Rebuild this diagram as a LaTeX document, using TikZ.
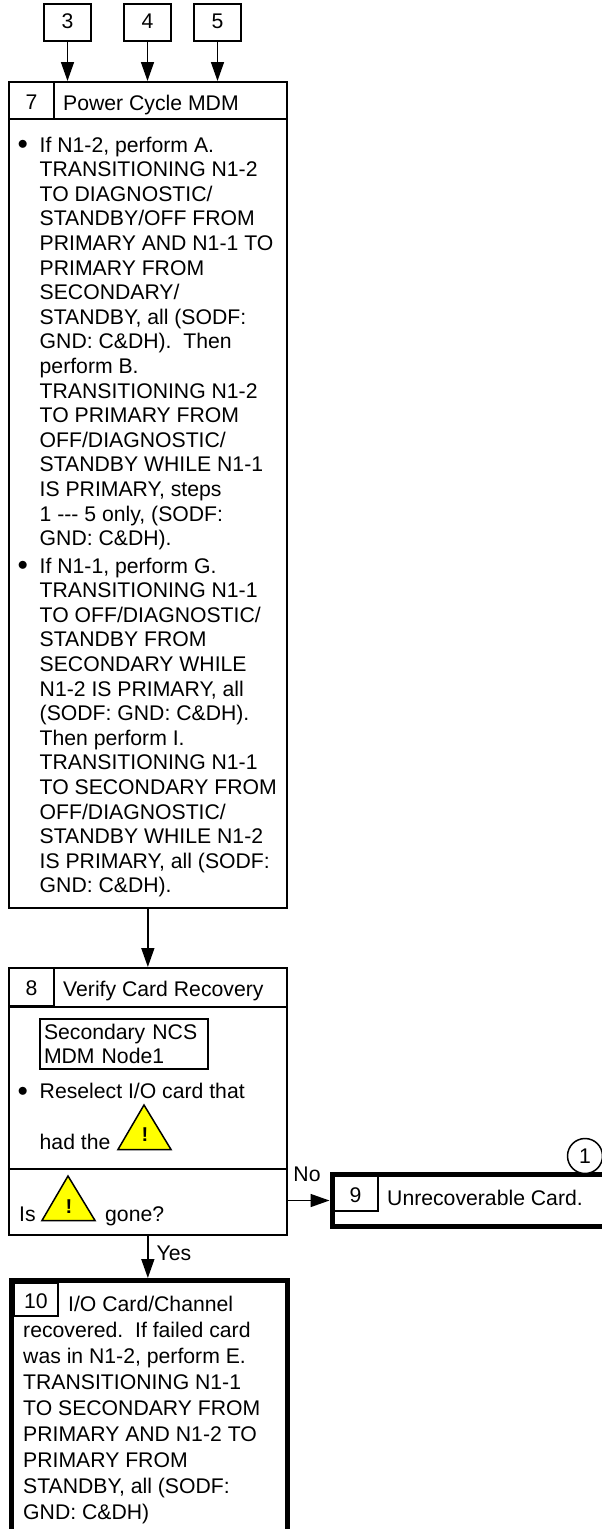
\documentclass[tikz,border=0pt]{standalone}
\usepackage{fontspec}
\setmainfont{Liberation Sans}
\usepackage{xcolor}
\usetikzlibrary{positioning, arrows.meta}

\definecolor{warnyellow}{RGB}{255,255,0}

\tikzset{
    flowbox/.style={draw, line width=2pt, anchor=north west, inner sep=0pt},
    termbox/.style={draw, line width=5pt, anchor=north west, inner sep=0pt},
    connbox/.style={draw, line width=2pt, anchor=north west, inner sep=0pt, text depth=2pt},
    numbox/.style={draw, line width=2pt, anchor=north west, inner sep=0pt, text height=18pt},
    bodytext/.style={anchor=north west, inner sep=0pt, align=left},
    linetext/.style={anchor=base west, inner sep=0pt},
    bulletmark/.style={inner sep=0pt},
    warnsign/.style={draw, line width=1.5pt, fill=warnyellow, line join=miter},
    warnmark/.style={inner sep=0pt, font=\fontsize{20}{20}\selectfont\bfseries},
    flow/.style={-{Triangle[length=19pt, width=13pt]}, line width=1.5pt},
}

\begin{document}
\begin{tikzpicture}[x=1pt, y=-1pt, font=\fontsize{21.2}{24.6}\selectfont]
    \useasboundingbox (0,0) rectangle (602,1529);
    \clip (0,0) rectangle (602,1529);

    % off-page connectors
    \node[connbox, minimum width=47pt, minimum height=37pt] (conn3) at (43,2.5) {3};
    \node[connbox, minimum width=47pt, minimum height=37pt] (conn4) at (123,2.5) {4};
    \node[connbox, minimum width=47pt, minimum height=37pt] (conn5) at (193,2.5) {5};

    % step 7
    \node[flowbox, minimum width=277.7pt, minimum height=826pt] (step7) at (8,81) {};
    \node[numbox, minimum width=45pt, minimum height=37pt] (num7) at (8,81) {7};
    \node[linetext] (title7) at (63,110) {Power Cycle MDM};
    \coordinate (rule7l) at (9,119);
    \coordinate (rule7r) at (287,119);
    \node[bulletmark] (bull7a) at (22.7,145) {$\bullet$};
    \node[bodytext] (text7a) at (39.5,136.5) {If N1-2, perform A.\\
        TRANSITIONING N1-2\\
        TO DIAGNOSTIC/\\
        STANDBY/OFF FROM\\
        PRIMARY AND N1-1 TO\\
        PRIMARY FROM\\
        SECONDARY/\\
        STANDBY, all (SODF:\\
        GND: C\&DH).\ \ Then\\
        perform B.\\
        TRANSITIONING N1-2\\
        TO PRIMARY FROM\\
        OFF/DIAGNOSTIC/\\
        STANDBY WHILE N1-1\\
        IS PRIMARY, steps\\
        1 -{}-{}- 5 only, (SODF:\\
        GND: C\&DH).};
    \node[bulletmark] (bull7b) at (22.7,565.7) {$\bullet$};
    \node[bodytext] (text7b) at (39.5,557.5) {If N1-1, perform G.\\
        TRANSITIONING N1-1\\
        TO OFF/DIAGNOSTIC/\\
        STANDBY FROM\\
        SECONDARY WHILE\\
        N1-2 IS PRIMARY, all\\
        (SODF: GND: C\&DH).\\
        Then perform I.\\
        TRANSITIONING N1-1\\
        TO SECONDARY FROM\\
        OFF/DIAGNOSTIC/\\
        STANDBY WHILE N1-2\\
        IS PRIMARY, all (SODF:\\
        GND: C\&DH).};

    % step 8
    \node[flowbox, minimum width=277.7pt, minimum height=267pt] (step8) at (8,967) {};
    \node[numbox, minimum width=45pt, minimum height=38pt] (num8) at (8,967) {8};
    \node[linetext] (title8) at (63,996) {Verify Card Recovery};
    \node[draw, line width=2pt, anchor=north west, inner xsep=4pt, inner ysep=0pt, text width=160pt, minimum height=50pt, align=left] (screen8) at (39,1018) {Secondary NCS\\MDM Node1};
    \node[bulletmark] (bull8) at (22.7,1092) {$\bullet$};
    \node[linetext] (text8) at (39.5,1098) {Reselect I/O card that};
    \node[linetext] (text8b) at (39.5,1149) {had the};
    \node[linetext] (ask8) at (19,1221) {Is};
    \node[linetext] (ask8b) at (105,1221) {gone?};
    \coordinate (rule8l) at (9,1169);
    \coordinate (rule8r) at (287,1169);
    \draw[warnsign] (118,1149.5) -- (144,1105) -- (171,1149.5) -- cycle;
    \node[warnmark] (mark8a) at (145,1135) {!};
    \draw[warnsign] (42,1220.5) -- (68,1176) -- (95,1220.5) -- cycle;
    \node[warnmark] (mark8b) at (69,1207) {!};

    % step 9
    \node[termbox, minimum width=300pt, minimum height=52pt] (step9) at (329.5,1172) {};
    \node[numbox, minimum width=45pt, minimum height=35pt] (num9) at (332,1175) {9};
    \node[linetext] (title9) at (387,1205) {Unrecoverable Card.};
    \node[draw, circle, line width=1.5pt, fill=white, minimum size=35pt, inner sep=0pt] (ref1) at (585,1156) {1};

    % step 10
    \node[termbox, minimum width=275.5pt, minimum height=260pt] (step10) at (9,1278) {};
    \node[numbox, minimum width=44pt, minimum height=33pt] (num10) at (13,1282) {10};
    \node[linetext] (text10a) at (68,1311) {I/O Card/Channel};
    \node[bodytext, font=\fontsize{21.2}{26}\selectfont] (text10b) at (23,1321.5) {recovered.\ \ If failed card\\
        was in N1-2, perform E.\\
        TRANSITIONING N1-1\\
        TO SECONDARY FROM\\
        PRIMARY AND N1-2 TO\\
        PRIMARY FROM\\
        STANDBY, all (SODF:\\
        GND: C\&DH)};

    \draw[line width=2pt] (rule7l) -- (rule7r);
    \draw[line width=2pt] (rule8l |- num8.south) -- (rule8r |- num8.south);
    \draw[line width=2pt] (rule8l) -- (rule8r);

    \draw[flow] (conn3.south) -- (conn3.south |- step7.north);
    \draw[flow] (conn4.south) -- (conn4.south |- step7.north);
    \draw[flow] (conn5.south) -- (conn5.south |- step7.north);
    \draw[flow] (step7.south) -- (step8.north);
    \draw[flow] (step8.east |- step9.west) -- node[pos=0.12, linetext, yshift=18.7pt] (labno) {No} (step9.west);
    \draw[flow] (step8.south) -- node[linetext, xshift=8pt, yshift=-3.5pt] (labyes) {Yes} (step10.north -| step8.south);
\end{tikzpicture}
\end{document}
